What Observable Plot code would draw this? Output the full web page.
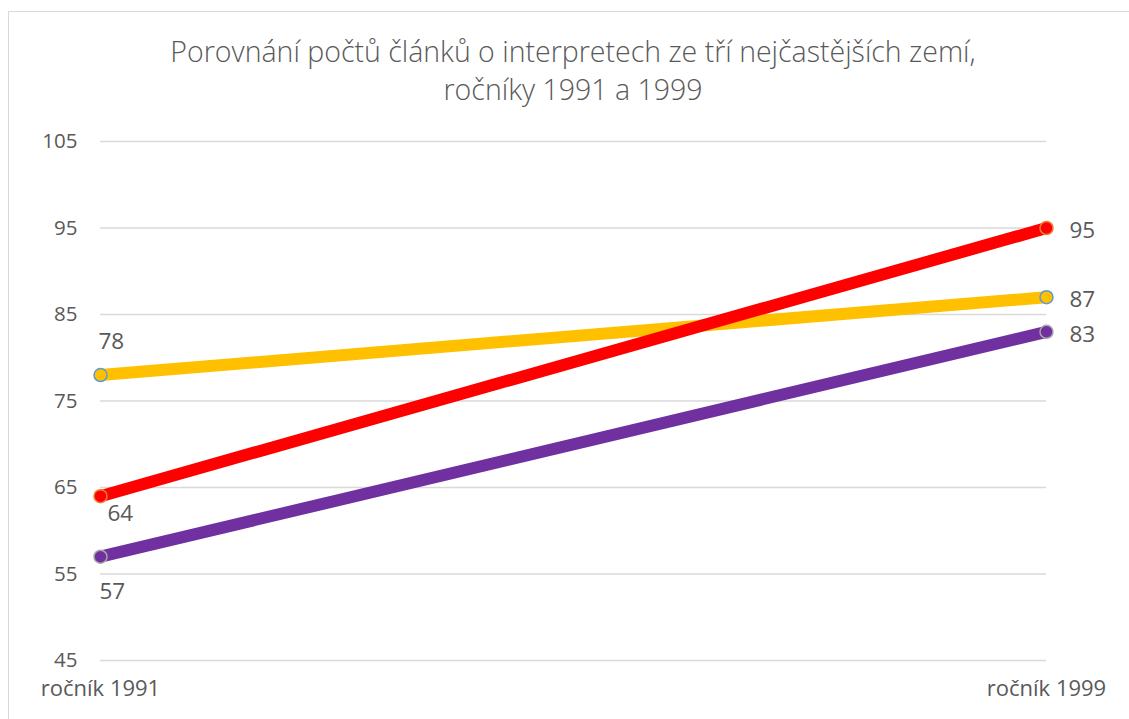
<!DOCTYPE html>
<html>
<head>
<meta charset="utf-8">
<script src="https://cdn.jsdelivr.net/npm/d3@7"></script>
<script src="https://cdn.jsdelivr.net/npm/@observablehq/plot@0.6"></script>
<style>
  html, body { margin: 0; padding: 0; background: #fff; }
  #wrap { position: relative; width: 1129px; height: 719px; overflow: hidden; }
  #frame { position: absolute; left: 8px; top: 11px; width: 1140px; height: 730px; border: 1.5px solid #d9d9d9; box-sizing: border-box; }
  #title { position: absolute; left: 0; top: 32px; width: 1146px; text-align: center; font-family: "Open Sans", sans-serif; font-weight: 300; font-size: 28.5px; line-height: 38px; color: #595959; }
  #chart { position: absolute; left: 0; top: 0; }
</style>
</head>
<body>
<div id="wrap">
  <div id="frame"></div>
  <div id="title">Porovnání počtů článků o interpretech ze tří nejčastějších zemí,<br>ročníky 1991 a 1999</div>
  <div id="chart"></div>
</div>
<script>
const years = ["ročník 1991", "ročník 1999"];
const seriesNames = ["A", "B", "C"];
const values1991 = [78, 64, 57];
const values1999 = [87, 95, 83];
const yTicks = [45, 55, 65, 75, 85, 95, 105];

const lineColors = {A: "#FFC000", B: "#FF0000", C: "#7030A0"};
const markerStroke = {A: "#5B9BD5", B: "#ED7D31", C: "#A5A5A5"};
const leftOffset = {A: {dx: -2, dy: -33}, B: {dx: 7, dy: 18}, C: {dx: -1, dy: 35}};

const rows = [];
seriesNames.forEach((s, i) => {
  rows.push({series: s, year: years[0], value: values1991[i]});
  rows.push({series: s, year: years[1], value: values1999[i]});
});
const left = rows.filter(d => d.year === years[0]);
const right = rows.filter(d => d.year === years[1]);

const font = '"Open Sans", sans-serif';
const txt = "#595959";

const plot = Plot.plot({
  width: 1129,
  height: 719,
  marginLeft: 100,
  marginRight: 83,
  marginTop: 141,
  marginBottom: 59,
  style: {fontFamily: font, background: "transparent", overflow: "visible"},
  x: {type: "point", domain: years, padding: 0},
  y: {domain: [45, 105]},
  marks: [
    Plot.ruleY(yTicks, {stroke: "#d9d9d9", strokeWidth: 1.3}),
    Plot.axisY({ticks: yTicks, tickSize: 0, tickPadding: 23, fontSize: 20.5, color: txt, label: null}),
    Plot.axisX({tickSize: 0, tickPadding: 20, fontSize: 22, color: txt, label: null}),
    Plot.line(rows, {x: "year", y: "value", z: "series", stroke: d => lineColors[d.series], strokeWidth: 12, strokeLinecap: "butt"}),
    Plot.dot(rows, {x: "year", y: "value", r: 6.5, fill: d => lineColors[d.series], stroke: d => markerStroke[d.series], strokeWidth: 1.5}),
    ...left.map(d => Plot.text([d], {x: "year", y: "value", text: d => String(d.value), textAnchor: "start", dx: leftOffset[d.series].dx, dy: leftOffset[d.series].dy, fontSize: 22.5, fill: txt})),
    Plot.text(right, {x: "year", y: "value", text: d => String(d.value), textAnchor: "start", dx: 23, dy: 3, fontSize: 22.5, fill: txt})
  ]
});
document.getElementById("chart").appendChild(plot);
</script>
</body>
</html>
